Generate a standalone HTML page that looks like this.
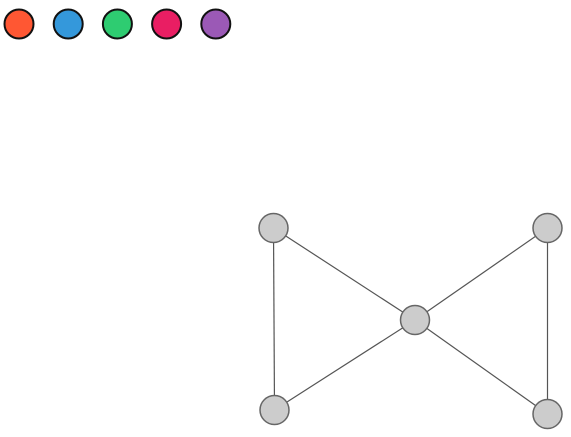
<!DOCTYPE html>
<html><head><meta charset="utf-8"><style>html,body{margin:0;padding:0;background:#fff;}svg{display:block;}</style></head>
<body>
<svg id="chart" width="571" height="437"></svg>
<script>
const paletteColors = ["#ff5733","#3498db","#2ecc71","#e91e63","#9b59b6"];
const nodeIds = ["a","b","c","d","e"];
const nodeX = [273.5, 547.5, 415, 274.5, 547.5];
const nodeY = [228, 228, 320, 410, 414];
const edgeSource = [0, 0, 1, 1, 2, 2];
const edgeTarget = [2, 3, 2, 4, 3, 4];
const NS = "http://www.w3.org/2000/svg";
const svg = document.getElementById("chart");
function mk(t, a){const e=document.createElementNS(NS,t);for(const k in a)e.setAttribute(k,a[k]);return e;}
paletteColors.forEach((c,i)=>{
  const el = mk("circle",{cx:19+i*49.2,cy:24,r:14.5,fill:c,stroke:"#111","stroke-width":2});
  
  
  svg.appendChild(el);
});
edgeSource.forEach((s,i)=>{
  const t = edgeTarget[i];
  const el = mk("line",{x1:nodeX[s],y1:nodeY[s],x2:nodeX[t],y2:nodeY[t],stroke:"#555","stroke-width":1.2});
  
  
  svg.appendChild(el);
});
nodeIds.forEach((id,i)=>{
  const el = mk("circle",{cx:nodeX[i],cy:nodeY[i],r:14.5,fill:"#cccccc",stroke:"#666","stroke-width":1.5});
  
  
  svg.appendChild(el);
});
</script>
</body></html>
